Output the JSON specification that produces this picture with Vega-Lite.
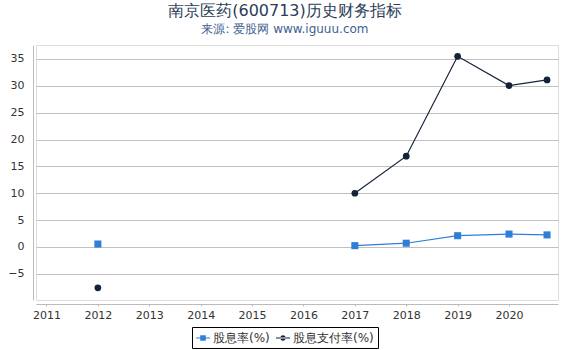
{
  "$schema": "https://vega.github.io/schema/vega-lite/v6.json",
  "width": 522,
  "height": 255,
  "autosize": "none",
  "padding": {"left": 36, "top": 45, "right": 12, "bottom": 50},
  "background": "white",
  "title": {
    "text": "南京医药(600713)历史财务指标",
    "subtitle": "来源: 爱股网 www.iguuu.com",
    "anchor": "middle",
    "dx": -12,
    "offset": 10,
    "font": "DejaVu Sans",
    "fontSize": 16,
    "fontWeight": "normal",
    "color": "#2b3d57",
    "subtitleFont": "DejaVu Sans",
    "subtitleFontSize": 12,
    "subtitleColor": "#3e5f8f",
    "subtitlePadding": 5
  },
  "data": {
    "values": [
      {"year": 2012, "series": "股息率(%)", "value": 0.55},
      {"year": 2013, "series": "股息率(%)", "value": null},
      {"year": 2014, "series": "股息率(%)", "value": null},
      {"year": 2015, "series": "股息率(%)", "value": null},
      {"year": 2016, "series": "股息率(%)", "value": null},
      {"year": 2017, "series": "股息率(%)", "value": 0.25},
      {"year": 2018, "series": "股息率(%)", "value": 0.7},
      {"year": 2019, "series": "股息率(%)", "value": 2.1},
      {"year": 2020, "series": "股息率(%)", "value": 2.4},
      {"year": 2020.74, "series": "股息率(%)", "value": 2.25},
      {"year": 2012, "series": "股息支付率(%)", "value": -7.6},
      {"year": 2013, "series": "股息支付率(%)", "value": null},
      {"year": 2014, "series": "股息支付率(%)", "value": null},
      {"year": 2015, "series": "股息支付率(%)", "value": null},
      {"year": 2016, "series": "股息支付率(%)", "value": null},
      {"year": 2017, "series": "股息支付率(%)", "value": 10.0},
      {"year": 2018, "series": "股息支付率(%)", "value": 16.9},
      {"year": 2019, "series": "股息支付率(%)", "value": 35.5},
      {"year": 2020, "series": "股息支付率(%)", "value": 30.05},
      {"year": 2020.74, "series": "股息支付率(%)", "value": 31.1}
    ]
  },
  "encoding": {
    "x": {
      "field": "year",
      "type": "quantitative",
      "scale": {"domain": [2010.796, 2020.953], "nice": false, "zero": false},
      "axis": {
        "title": null,
        "values": [2011, 2012, 2013, 2014, 2015, 2016, 2017, 2018, 2019, 2020],
        "format": "d",
        "grid": false,
        "offset": 4,
        "domainColor": "#bbbbbb",
        "tickColor": "#bbbbbb",
        "tickSize": 2,
        "labelFont": "DejaVu Sans",
        "labelFontSize": 11,
        "labelColor": "#333333",
        "labelPadding": 3,
        "labelFlush": false
      }
    },
    "y": {
      "field": "value",
      "type": "quantitative",
      "scale": {"domain": [-9.87, 37.6], "nice": false, "zero": false},
      "axis": {
        "title": null,
        "values": [-5, 0, 5, 10, 15, 20, 25, 30, 35],
        "grid": true,
        "gridColor": "#c0c0c0",
        "offset": 3,
        "domainColor": "#bbbbbb",
        "ticks": false,
        "labelFont": "DejaVu Sans",
        "labelFontSize": 11,
        "labelColor": "#333333",
        "labelPadding": 9
      }
    },
    "color": {
      "field": "series",
      "type": "nominal",
      "sort": ["股息率(%)", "股息支付率(%)"],
      "scale": {"domain": ["股息率(%)", "股息支付率(%)"], "range": ["#2f7fd8", "#14233a"]},
      "legend": {
        "title": null,
        "orient": "none",
        "direction": "horizontal",
        "legendX": 156,
        "legendY": 282,
        "strokeColor": "#000000",
        "padding": 4,
        "symbolSize": 196,
        "labelFont": "DejaVu Sans",
        "labelFontSize": 12,
        "labelColor": "#333333",
        "labelOffset": 3,
        "columnPadding": 6,
        "symbolStrokeWidth": 0,
        "encode": {
          "symbols": {
            "update": {
              "shape": {"signal": "datum.value === '股息率(%)' ? 'M-1,-0.07H1V0.07H-1Z M-0.4,-0.4H0.4V0.4H-0.4Z' : 'M-1,-0.07H1V0.07H-1Z M-0.38,0A0.38,0.38 0 1,0 0.38,0A0.38,0.38 0 1,0 -0.38,0Z'"},
              "fill": {"signal": "datum.value === '股息率(%)' ? '#2f7fd8' : '#14233a'"},
              "fillOpacity": {"value": 1},
              "strokeWidth": {"value": 0}
            }
          }
        }
      }
    }
  },
  "layer": [
    {
      "mark": {"type": "line", "strokeWidth": 1.2, "invalid": "break-paths-filter-domains"}
    },
    {
      "transform": [{"filter": "datum.value != null && datum.series === '股息率(%)'"}],
      "mark": {"type": "point", "shape": "square", "filled": true, "size": 50, "opacity": 1}
    },
    {
      "transform": [{"filter": "datum.value != null && datum.series === '股息支付率(%)'"}],
      "mark": {"type": "point", "shape": "circle", "filled": true, "size": 45, "opacity": 1}
    }
  ]
}
